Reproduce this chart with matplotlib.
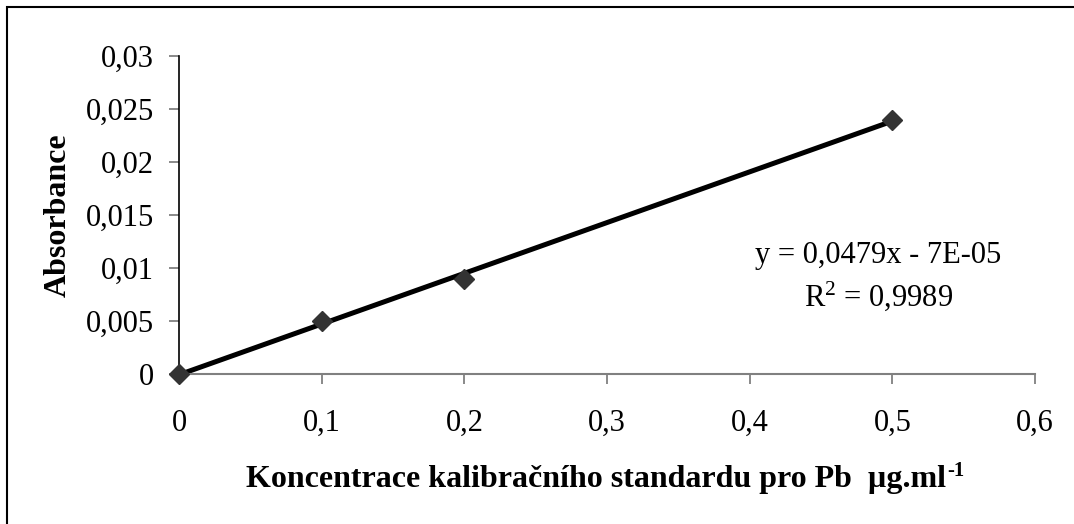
import numpy as np
import matplotlib
matplotlib.use("Agg")
import matplotlib.pyplot as plt
from matplotlib.patches import Rectangle
from matplotlib.ticker import FuncFormatter

# calibration data (Pb standard)
conc = [0.0, 0.1, 0.2, 0.5]
absorbance = [0.0, 0.005, 0.009, 0.024]
x_ticks = [0, 0.1, 0.2, 0.3, 0.4, 0.5, 0.6]
y_ticks = [0, 0.005, 0.01, 0.015, 0.02, 0.025, 0.03]
eq_text = "y = 0,0479x - 7E-05"
r2_text = "R$^{2}$ = 0,9989"
x_label = "Koncentrace kalibračního standardu pro Pb  µg.ml"
x_label_sup = "-1"

plt.rcParams['font.family'] = ['Liberation Serif', 'DejaVu Serif']
plt.rcParams['mathtext.fontset'] = 'custom'
plt.rcParams['mathtext.rm'] = 'Liberation Serif'
plt.rcParams['mathtext.it'] = 'Liberation Serif:italic'
plt.rcParams['mathtext.bf'] = 'Liberation Serif:bold'

fs = 22

fig = plt.figure(figsize=(10.74, 5.24), dpi=100)
# outer chart border (only top/left visible in the crop)
fig.patches.append(Rectangle((7 / 1074, -0.1), 1.2, (524 - 7) / 524 + 0.1,
                             transform=fig.transFigure, fill=False,
                             edgecolor='black', linewidth=1.5))

ax = fig.add_axes([179 / 1074, (524 - 374) / 524, (1035 - 179) / 1074, (374 - 56) / 524])

# linear trendline
k, q = np.polyfit(conc, absorbance, 1)
xs = np.array([min(conc), max(conc)])
ax.plot(xs, k * xs + q, color='black', linewidth=3.6, zorder=2, clip_on=False)
ax.plot(conc, absorbance, linestyle='none', marker='D', markersize=10,
        color='#333333', zorder=3, clip_on=False)

ax.set_xlim(0, 0.6)
ax.set_ylim(0, 0.03)
ax.set_xticks(x_ticks)
ax.set_yticks(y_ticks)
fmt = FuncFormatter(lambda v, p: f"{v:g}".replace('.', ','))
ax.xaxis.set_major_formatter(fmt)
ax.yaxis.set_major_formatter(fmt)

for s in ['top', 'right']:
    ax.spines[s].set_visible(False)
ax.spines['left'].set_color('black')
ax.spines['left'].set_linewidth(1.2)
ax.spines['bottom'].set_color('#808080')
ax.spines['bottom'].set_linewidth(1.5)

ax.tick_params(axis='x', direction='out', length=7, width=1.3, color='#808080',
               labelsize=fs, pad=18)
ax.tick_params(axis='y', direction='out', length=7, width=1.3, color='#808080',
               labelsize=fs, pad=11)

ax.set_ylabel("Absorbance", fontsize=23, fontweight='bold', labelpad=9)
ax.set_xlabel(x_label, fontsize=23, fontweight='bold', labelpad=20)
ax.xaxis.label.set_x(0.487)

# superscript of the unit, placed right after the x label
fig.canvas.draw()
bb = ax.xaxis.label.get_window_extent()
fig.text(bb.x1 / 1074 + 0.001, (bb.y1 + 5) / 524, x_label_sup, fontsize=15,
         fontweight='bold', ha='left', va='top')

ax.text(0.49, 0.0112, eq_text, fontsize=fs, ha='center', va='center')
ax.text(0.49, 0.0073, r2_text, fontsize=fs, ha='center', va='center')

fig.savefig("out.png", dpi=100)
